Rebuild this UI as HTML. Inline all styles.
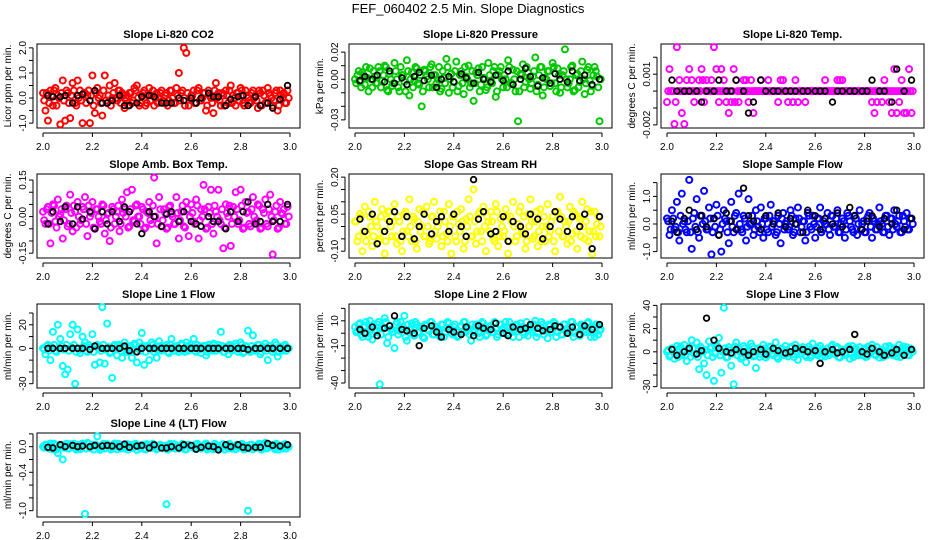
<!DOCTYPE html>
<html><head><meta charset="utf-8"><style>
html,body{margin:0;padding:0;background:#fff;}
svg{display:block;font-family:"Liberation Sans",Arial,sans-serif;}
</style></head><body>
<svg id="chart" width="936" height="540" viewBox="0 0 936 540">
<rect width="936" height="540" fill="#fff"/>
<text x="468" y="13" text-anchor="middle" font-size="13">FEF_060402  2.5 Min. Slope Diagnostics</text>
</svg>
<script>
const xsColor = [2.00,2.01,2.02,2.03,2.04,2.05,2.06,2.07,2.08,2.09,2.10,2.11,2.12,2.13,2.14,2.15,2.16,2.17,2.18,2.19,2.20,2.21,2.22,2.23,2.24,2.25,2.26,2.27,2.28,2.29,2.30,2.31,2.32,2.33,2.34,2.35,2.36,2.37,2.38,2.39,2.40,2.41,2.42,2.43,2.44,2.45,2.46,2.47,2.48,2.49,2.50,2.51,2.52,2.53,2.54,2.55,2.56,2.57,2.58,2.59,2.60,2.61,2.62,2.63,2.64,2.65,2.66,2.67,2.68,2.69,2.70,2.71,2.72,2.73,2.74,2.75,2.76,2.77,2.78,2.79,2.80,2.81,2.82,2.83,2.84,2.85,2.86,2.87,2.88,2.89,2.90,2.91,2.92,2.93,2.94,2.95,2.96,2.97,2.98,2.99];
const xsBlack = [2.02,2.04,2.07,2.09,2.12,2.14,2.16,2.19,2.21,2.24,2.26,2.28,2.31,2.33,2.35,2.38,2.40,2.43,2.45,2.48,2.50,2.52,2.55,2.57,2.60,2.62,2.64,2.67,2.69,2.71,2.74,2.76,2.79,2.81,2.83,2.86,2.88,2.91,2.93,2.96,2.99];
const xTicks = [2.0,2.2,2.4,2.6,2.8,3.0];
const xTickLabels = ["2.0","2.2","2.4","2.6","2.8","3.0"];

const co2Color = [0.2,-0.5,-0.9,0.3,-0.3,0.4,0.1,-1.05,0.7,-0.9,0.2,-0.8,0.6,-0.2,0.7,0.3,-1.0,0.2,0.1,-1.0,0.9,-0.6,0.4,0.1,-0.7,0.9,-0.2,0.5,0.0,0.6,-0.1,0.3,0.2,-0.4,0.1,0.2,-0.2,0.4,0.5,-0.3,0.1,0.3,-0.2,0.4,0.1,-0.3,0.2,0.0,0.3,-0.2,0.2,-0.1,0.3,-0.2,0.4,1.0,0.2,2.0,1.8,-0.3,0.1,0.3,-0.2,0.4,-0.1,0.2,-0.5,0.3,0.0,-0.6,0.6,0.2,-0.3,0.1,0.3,-0.2,0.5,0.1,-0.3,0.2,0.4,-0.2,0.3,0.0,-0.2,0.3,0.1,-0.4,0.2,0.3,-0.2,0.4,0.1,-0.3,0.2,-0.5,0.3,0.0,-0.2,0.3];
const co2Band = [-0.1,0.2,-0.2,0.1,0.3,-0.3,0,0.2,-0.1,0.3,-0.2,0.1,0.3,-0.3,0,-0.1,0.2,-0.2,0.3,0.1,-0.3,0.2,0,-0.2,0.3,-0.1,0.1,-0.3,0.2,0,0.3,-0.2,0.1,0,-0.3,0.2,-0.1,0.3,0,-0.2,0.2,-0.3,0.1,-0.1,0.3,0,-0.2,0.2,-0.1,0.1,-0.3,0.3,0,-0.2,0.1,-0.1,0.3,-0.3,0.2,0,0.1,-0.2,0.3,-0.1,0,0.2,-0.3,0.1,-0.2,0.3,0,-0.1,0.2,-0.3,0.1,0.3,-0.2,0,0.2,-0.1,0.3,-0.3,0.1,-0.2,0.2,0,-0.1,0.3,-0.3,0.1,-0.2,0.2,0,-0.1,0.3,-0.3,0.1,0.2,-0.2,0];
const co2Black = [0.1,0.05,0.05,0.1,-0.2,0.1,0.15,-0.1,0.3,-0.2,-0.2,-0.1,0.1,-0.3,-0.3,-0.2,0.05,0.1,0.05,-0.2,-0.2,-0.2,0.0,-0.1,0.0,-0.2,0.0,0.2,0.05,0.05,-0.3,-0.05,0.05,0.1,-0.3,0.05,-0.3,-0.2,-0.4,-0.05,0.5];
const presColor = [0,0.003,-0.002,0.005,-0.004,0.001,0.008,-0.006,0.002,-0.003,0.006,-0.001,0.010,-0.008,0.004,-0.005,0.012,0,-0.009,0.003,-0.002,0.014,-0.012,0.005,-0.001,0.008,-0.004,-0.020,0.007,0.002,-0.006,0.011,0.003,-0.003,0.009,-0.007,0.001,0.015,-0.010,0.004,-0.002,0.013,-0.005,0.006,-0.011,0.002,0.010,-0.003,-0.016,0.005,0.008,-0.004,0.001,-0.008,0.012,-0.001,0.006,-0.013,0.003,0.009,-0.006,0,0.014,-0.003,0.007,-0.009,-0.031,0.004,0.011,-0.002,0.005,-0.007,0.002,0.016,-0.004,0.009,-0.012,0.001,0.006,-0.005,0.012,-0.003,0.008,-0.010,0.003,0.022,-0.006,0,0.010,-0.008,0.004,-0.002,0.013,-0.011,0.007,-0.001,-0.005,0.009,0.002,-0.031];
const presBand = [-0.003,0.006,-0.006,0.003,0.009,-0.009,0,0.006,-0.003,0.009,-0.006,0.003,0.009,-0.009,0,-0.003,0.006,-0.006,0.009,0.003,-0.009,0.006,0,-0.006,0.009,-0.003,0.003,-0.009,0.006,0,0.009,-0.006,0.003,0,-0.009,0.006,-0.003,0.009,0,-0.006,0.006,-0.009,0.003,-0.003,0.009,0,-0.006,0.006,-0.003,0.003,-0.009,0.009,0,-0.006,0.003,-0.003,0.009,-0.009,0.006,0,0.003,-0.006,0.009,-0.003,0,0.006,-0.009,0.003,-0.006,0.009,0,-0.003,0.006,-0.009,0.003,0.009,-0.006,0,0.006,-0.003,0.009,-0.009,0.003,-0.006,0.006,0,-0.003,0.009,-0.009,0.003,-0.006,0.006,0,-0.003,0.009,-0.009,0.003,0.006,-0.006,0];
const presBlack = [-0.001,0.002,0,0.003,-0.002,0.006,-0.003,0.001,-0.004,0.002,0.005,-0.001,0.003,-0.006,0,0.002,-0.002,0.004,0.001,-0.003,0.005,0,-0.002,0.003,-0.001,0.006,-0.004,0,0.008,0.002,-0.005,0.001,-0.003,0.004,0,-0.002,0.006,-0.001,0.003,-0.004,0];
const tempColor = [-0.00065,0.0013,0,-0.00195,0.0026,0.00065,-0.0013,-0.00195,0.00065,0.0013,0.00065,-0.00065,0,0.00065,0.0013,-0.00065,0.00065,0,0.00065,0.0026,0.0013,-0.00065,0.0013,0.00065,-0.00065,-0.0013,-0.00065,0.0013,0.00065,-0.00065,0,0.00065,0.00065,-0.00065,0.00065,-0.0013,0,0,0.00065,0,0,0.00065,0,0,0,-0.00065,0.00065,0.00065,0,-0.00065,0,-0.00065,0.00065,-0.00065,0,0,-0.00065,0,0,0,0,0,0,0,0.00065,0,0,0,0,0.00065,0.00065,0.00065,0,0,0,0,0,0,0,0,0,0,0,-0.00065,-0.0013,-0.00065,0,-0.00065,0.00065,0,-0.00065,-0.0013,0.0013,-0.0013,-0.00065,0.00065,-0.0013,-0.0013,0.0013,-0.0013];
const tempBand = [0,0,0,-0.00065,0,0,0,0,0,0,0,0,0,0,0.00065,0,0,0,0,0,0,0,0,0,0,0,0,-0.00065,0,0,0,0,0,0,0,0,0,0,0,0,0,0,0,0,0,0,0,0,0,0,0,0,0,0,0,0,0,0,0,0,0,0,0,0,0,0,0,0,0,0,0,0,0,0,0,0,0,0,0,0,0,0,0,0,0,0,0,0,0,0,0,0,0,0,0,0,0,0,0,0];
const tempBlack = [0.00065,0,0,0,0,-0.00065,0,0,0.00065,0,0,0.00065,0,-0.0013,-0.00065,0.00065,0,0,0,0,0,0,0,0,0,0,0,-0.00065,0,0,0,0,0,0,0.00065,0,0,-0.00065,0.0013,0,0.00065];
const boxColor = [0.02,-0.03,0.04,-0.11,0.05,-0.02,0.07,0.01,-0.09,0.03,-0.04,0.09,-0.06,0.02,0.06,-0.03,0.04,0.08,-0.08,0.0,0.06,-0.05,0.03,-0.02,0.05,-0.07,0.01,-0.10,0.04,-0.03,0.02,-0.06,0.07,0.03,0.10,-0.04,0.11,-0.02,0.05,0.0,0.04,-0.05,0.02,0.06,-0.03,0.16,-0.11,0.08,-0.04,0.03,-0.05,0.04,0.01,-0.03,0.08,-0.09,0.02,-0.04,0.06,-0.08,0.05,-0.02,0.07,-0.09,0.03,0.13,-0.05,0.04,0.11,-0.07,0.02,0.11,-0.03,-0.13,0.05,0.0,-0.12,0.04,0.10,-0.03,0.11,-0.05,0.06,0.02,-0.04,0.08,-0.02,0.05,-0.05,0.03,0.07,-0.04,0.09,-0.155,0.02,-0.05,0.06,0.01,-0.03,0.04];
const boxBand = [-0.015,0.03,-0.03,0.015,0.045,-0.045,0,0.03,-0.015,0.045,-0.03,0.015,0.045,-0.045,0,-0.015,0.03,-0.03,0.045,0.015,-0.045,0.03,0,-0.03,0.045,-0.015,0.015,-0.045,0.03,0,0.045,-0.03,0.015,0,-0.045,0.03,-0.015,0.045,0,-0.03,0.03,-0.045,0.015,-0.015,0.045,0,-0.03,0.03,-0.015,0.015,-0.045,0.045,0,-0.03,0.015,-0.015,0.045,-0.045,0.03,0,0.015,-0.03,0.045,-0.015,0,0.03,-0.045,0.015,-0.03,0.045,0,-0.015,0.03,-0.045,0.015,0.045,-0.03,0,0.03,-0.015,0.045,-0.045,0.015,-0.03,0.03,0,-0.015,0.045,-0.045,0.015,-0.03,0.03,0,-0.015,0.045,-0.045,0.015,0.03,-0.03,0];
const boxBlack = [-0.03,0.02,-0.02,0.04,-0.03,0.04,-0.01,0.02,-0.05,0.02,-0.03,0.02,-0.02,0.04,0.02,-0.03,-0.07,0.02,0.0,-0.04,0.01,0.02,-0.02,0.02,-0.02,-0.03,-0.04,0.0,-0.02,-0.02,-0.05,0.02,-0.02,0.02,0.06,-0.03,-0.02,0.05,-0.02,-0.02,0.05];
const rhColor = [0.02,-0.06,0.05,-0.10,0.08,-0.03,0.04,-0.08,0.10,0.0,-0.05,0.07,-0.11,0.03,0.06,-0.04,0.09,-0.07,0.02,-0.10,0.05,-0.02,0.11,-0.06,0.03,-0.09,0.07,0.0,-0.04,0.08,-0.07,0.04,0.10,-0.05,0.02,-0.08,0.06,-0.03,0.09,-0.11,0.04,-0.06,0.01,0.07,-0.09,0.03,0.11,-0.04,0.15,-0.07,0.05,-0.02,0.08,-0.10,0.02,0.06,-0.05,0.09,-0.08,0.03,-0.04,0.07,-0.11,0.04,0.10,-0.06,0.01,0.08,-0.03,-0.09,0.05,0.11,-0.05,0.02,-0.08,0.07,0.0,-0.06,0.09,-0.02,0.04,-0.10,0.06,0.12,-0.04,0.02,-0.07,0.08,-0.03,0.05,-0.09,0.03,0.10,-0.05,0.07,-0.02,-0.11,0.06,0.01,-0.04];
const rhBand = [0.02,-0.04,0.04,-0.02,-0.06,0.06,0,-0.04,0.02,-0.06,0.04,-0.02,-0.06,0.06,0,0.02,-0.04,0.04,-0.06,-0.02,0.06,-0.04,0,0.04,-0.06,0.02,-0.02,0.06,-0.04,0,-0.06,0.04,-0.02,0,0.06,-0.04,0.02,-0.06,0,0.04,-0.04,0.06,-0.02,0.02,-0.06,0,0.04,-0.04,0.02,-0.02,0.06,-0.06,0,0.04,-0.02,0.02,-0.06,0.06,-0.04,0,-0.02,0.04,-0.06,0.02,0,-0.04,0.06,-0.02,0.04,-0.06,0,0.02,-0.04,0.06,-0.02,-0.06,0.04,0,-0.04,0.02,-0.06,0.06,-0.02,0.04,-0.04,0,0.02,-0.06,0.06,-0.02,0.04,-0.04,0,0.02,-0.06,0.06,-0.02,-0.04,0.04,0];
const rhBlack = [0.03,-0.02,0.05,-0.07,-0.02,0.02,0.06,-0.04,0.04,-0.05,0.0,0.05,-0.03,0.02,0.04,-0.02,0.05,0.0,-0.04,0.19,0.03,0.06,-0.03,-0.02,0.04,-0.06,0.02,0.0,-0.03,0.05,0.03,-0.05,0.0,0.06,0.03,-0.02,0.04,0.0,0.05,-0.09,0.04];
const sampleColor = [0.2,-0.4,0.5,-0.2,0.8,-0.6,1.1,0.1,-0.3,1.6,-0.9,0.4,0.9,-0.5,0.3,1.2,-0.2,0.6,-1.1,0.2,0.7,-0.4,-1.0,0.5,0.1,-0.7,0.8,-0.3,0.4,1.1,-0.2,0.3,-0.6,0.9,0.0,-0.4,0.5,-0.1,0.6,-0.5,0.2,-0.3,0.7,0.1,-0.4,0.3,-0.7,0.4,0.0,-0.2,0.5,-0.4,0.2,0.6,-0.3,0.1,-0.6,0.4,-0.1,0.3,-0.5,0.2,0.6,-0.2,0.0,0.4,-0.4,0.3,-0.1,0.5,-0.3,0.2,-0.5,0.4,0.1,-0.2,0.3,-0.4,0.5,0.0,-0.3,0.2,0.4,-0.5,0.1,-0.2,0.6,0.0,-0.3,0.3,-0.4,0.2,0.5,-0.1,0.3,-0.3,0.1,0.4,-0.2,0.2];
const sampleBand = [0.1,-0.2,0.2,-0.1,-0.3,0.3,0,-0.2,0.1,-0.3,0.2,-0.1,-0.3,0.3,0,0.1,-0.2,0.2,-0.3,-0.1,0.3,-0.2,0,0.2,-0.3,0.1,-0.1,0.3,-0.2,0,-0.3,0.2,-0.1,0,0.3,-0.2,0.1,-0.3,0,0.2,-0.2,0.3,-0.1,0.1,-0.3,0,0.2,-0.2,0.1,-0.1,0.3,-0.3,0,0.2,-0.1,0.1,-0.3,0.3,-0.2,0,-0.1,0.2,-0.3,0.1,0,-0.2,0.3,-0.1,0.2,-0.3,0,0.1,-0.2,0.3,-0.1,-0.3,0.2,0,-0.2,0.1,-0.3,0.3,-0.1,0.2,-0.2,0,0.1,-0.3,0.3,-0.1,0.2,-0.2,0,0.1,-0.3,0.3,-0.1,-0.2,0.2,0];
const sampleBlack = [0.1,-0.3,0.2,0.5,-0.2,0.3,-0.1,0.2,-0.4,0.4,0.1,-0.2,1.3,0.3,0.1,-0.2,0.3,0.0,0.4,-0.1,0.2,0.0,-0.3,0.5,0.3,-0.2,0.2,0.0,0.4,-0.1,0.6,0.3,-0.2,0.1,0.3,-0.1,0.2,0.0,0.5,-0.2,0.2];
const line1Color = [0,-5,3,-10,14,-2,20,8,-15,-22,-18,12,20,-30,16,-4,10,5,-3,0,12,-14,3,-12,35,-13,21,-4,-25,3,-6,2,-8,5,-3,0,-8,4,-12,5,13,-14,2,-10,5,-3,-8,6,-2,0,3,-4,8,-2,2,-3,4,-1,5,-2,3,8,-3,1,-4,2,-6,3,-1,4,-2,3,14,-3,1,-5,2,-1,4,-3,5,-4,2,15,-3,11,-2,3,-5,1,4,-10,2,-3,5,-7,1,-2,3,0];
const line1Band = [-1,2,-2,1,3,-3,0,2,-1,3,-2,1,3,-3,0,-1,2,-2,3,1,-3,2,0,-2,3,-1,1,-3,2,0,3,-2,1,0,-3,2,-1,3,0,-2,2,-3,1,-1,3,0,-2,2,-1,1,-3,3,0,-2,1,-1,3,-3,2,0,1,-2,3,-1,0,2,-3,1,-2,3,0,-1,2,-3,1,3,-2,0,2,-1,3,-3,1,-2,2,0,-1,3,-3,1,-2,2,0,-1,3,-3,1,2,-2,0];
const line1Black = [0,0,0,0,0,0,0,-1,2,0,0,0,0,2,-2,-3,0,0,0,0,0,0,0,0,0,0,0,0,0,0,0,0,0,0,-1,0,0,0,0,0,0];
const line2Color = [5,2,8,-3,6,0,10,-5,3,7,-41,4,12,-8,6,1,-12,9,2,5,14,-6,3,8,-2,7,1,4,-4,6,2,9,-1,5,3,7,-3,4,8,0,5,2,-2,6,9,1,4,-6,3,7,0,5,8,-2,3,6,1,4,-1,7,3,9,0,5,-3,6,2,8,1,4,-2,6,3,10,0,5,7,2,-4,6,3,8,1,5,-1,7,4,2,9,0,5,-2,6,3,8,1,4,-3,7,2];
const line2Band = [1,7,-1,5,9,-3,3,7,1,9,-1,5,9,-3,3,1,7,-1,9,5,-3,7,3,-1,9,1,5,-3,7,3,9,-1,5,3,-3,7,1,9,3,-1,7,-3,5,1,9,3,-1,7,1,5,-3,9,3,-1,5,1,9,-3,7,3,5,-1,9,1,3,7,-3,5,-1,9,3,1,7,-3,5,9,-1,3,7,1,9,-3,5,-1,7,3,1,9,-3,5,-1,7,3,1,9,-3,5,7,-1,3];
const line2Black = [3,0,5,-2,4,6,14,3,2,0,-10,4,6,1,-3,3,1,-1,5,-2,6,4,3,8,0,-2,5,3,4,7,4,2,3,6,5,0,5,-1,6,3,7];
const line3Color = [0,-4,3,-6,5,2,-3,6,-8,4,10,-2,8,-15,3,-10,-20,9,4,-25,6,12,-18,38,-5,4,-12,-28,8,3,-6,5,-9,2,7,-4,-14,3,-2,6,-5,1,4,-3,8,-6,2,-1,5,-4,3,-2,6,-7,1,4,-3,2,-5,7,0,-3,5,2,-4,3,-1,6,-2,4,-5,2,-1,3,-6,5,1,-3,4,-2,3,-4,1,6,-2,4,-5,2,0,-3,5,-1,3,-4,6,1,-2,4,-3,2];
const line3Band = [1.5,-3,3,-1.5,-4.5,4.5,0,-3,1.5,-4.5,3,-1.5,-4.5,4.5,0,1.5,-3,3,-4.5,-1.5,4.5,-3,0,3,-4.5,1.5,-1.5,4.5,-3,0,-4.5,3,-1.5,0,4.5,-3,1.5,-4.5,0,3,-3,4.5,-1.5,1.5,-4.5,0,3,-3,1.5,-1.5,4.5,-4.5,0,3,-1.5,1.5,-4.5,4.5,-3,0,-1.5,3,-4.5,1.5,0,-3,4.5,-1.5,3,-4.5,0,1.5,-3,4.5,-1.5,-4.5,3,0,-3,1.5,-4.5,4.5,-1.5,3,-3,0,1.5,-4.5,4.5,-1.5,3,-3,0,1.5,-4.5,4.5,-1.5,-3,3,0];
const line3Black = [2,-3,0,3,-2,1,29,10,3,0,-1,2,0,-3,0,2,-2,3,1,-1,0,3,2,0,1,-10,0,2,-1,0,2,15,0,-2,3,0,-3,-1,2,-3,2];
const line4Color = [0.0,0.03,-0.02,0.05,-0.04,0.02,-0.1,0.03,-0.2,0.01,-0.03,0.04,0.0,-0.02,0.03,-0.04,0.05,-1.05,0.06,-0.02,0.03,0.01,0.16,-0.05,0.02,-0.03,0.04,0.0,-0.02,0.05,-0.04,0.02,0.0,-0.03,0.04,0.01,-0.02,0.03,-0.05,0.02,0.0,-0.03,0.04,0.01,-0.02,0.03,-0.04,0.02,0.0,-0.03,-0.9,0.02,-0.02,0.04,0.0,-0.03,0.02,0.01,-0.04,0.03,0.0,-0.02,0.04,0.01,-0.03,0.02,0.05,-0.02,0.01,-0.04,0.03,0.0,-0.02,0.04,0.01,-0.03,0.02,0.0,-0.04,0.03,0.02,-0.02,0.0,-1.0,0.03,-0.04,0.01,0.02,-0.03,0.04,0.06,-0.02,0.0,0.03,-0.04,0.02,0.01,-0.03,0.04,0.02];
const line4Band = [-0.015,0.03,-0.03,0.015,0.045,-0.045,0,0.03,-0.015,0.045,-0.03,0.015,0.045,-0.045,0,-0.015,0.03,-0.03,0.045,0.015,-0.045,0.03,0,-0.03,0.045,-0.015,0.015,-0.045,0.03,0,0.045,-0.03,0.015,0,-0.045,0.03,-0.015,0.045,0,-0.03,0.03,-0.045,0.015,-0.015,0.045,0,-0.03,0.03,-0.015,0.015,-0.045,0.045,0,-0.03,0.015,-0.015,0.045,-0.045,0.03,0,0.015,-0.03,0.045,-0.015,0,0.03,-0.045,0.015,-0.03,0.045,0,-0.015,0.03,-0.045,0.015,0.045,-0.03,0,0.03,-0.015,0.045,-0.045,0.015,-0.03,0.03,0,-0.015,0.045,-0.045,0.015,-0.03,0.03,0,-0.015,0.045,-0.045,0.015,0.03,-0.03,0];
const line4Black = [-0.01,-0.02,0.03,0.0,0.02,0.0,0.01,0.0,0.02,0.01,0.02,0.01,0.0,0.04,-0.01,0.01,0.02,-0.02,0.03,-0.02,-0.02,0.0,-0.02,0.03,0.02,-0.04,-0.01,0.01,0.0,-0.05,0.03,0.0,0.03,-0.01,-0.02,-0.01,-0.01,0.05,0.02,0.01,0.03];

const panelTitles = ["Slope Li-820 CO2","Slope Li-820 Pressure","Slope Li-820 Temp.","Slope Amb. Box Temp.","Slope Gas Stream RH","Slope Sample Flow","Slope Line 1 Flow","Slope Line 2 Flow","Slope Line 3 Flow","Slope Line 4 (LT) Flow"];
const yTitles = ["Licor ppm per min.","kPa per min.","degrees C per min.","degrees C per min.","percent per min.","ml/min per min.","ml/min per min.","ml/min per min.","ml/min per min.","ml/min per min."];
const yTicks = [[-1,-0.5,0,0.5,1,1.5,2],[-0.03,-0.02,-0.01,0,0.01,0.02],[-0.002,-0.001,0,0.001,0.002],[-0.15,-0.1,-0.05,0,0.05,0.1,0.15],[-0.1,-0.05,0,0.05,0.1,0.15,0.2],[-1,-0.5,0,0.5,1,1.5],[-30,-20,-10,0,10,20,30],[-40,-30,-20,-10,0,10,20],[-30,-20,-10,0,10,20,30,40],[-1,-0.8,-0.6,-0.4,-0.2,0,0.2]];
const yTickLabels = [["-1.0","","0.0","","1.0","","2.0"],["-0.03","","","0.00","","0.02"],["-0.002","","","0.001",""],["-0.15","","","0.00","","","0.15"],["-0.10","","","0.05","","","0.20"],["-1.0","","0.0","","1.0",""],["-30","","","0","","20",""],["-40","","","-10","","10",""],["-30","","","0","","20","","40"],["-1.0","","","-0.4","","0.0",""]];
const yLims = [[-1.07,2.03],[-0.0337,0.0237],[-0.002,0.0026],[-0.157,0.162],[-0.115,0.2],[-1.12,1.7],[-31,35],[-41.5,21],[-28.5,38.5],[-1.05,0.165]];
const colors = ["#ff0000","#00c800","#ff00ff","#ff00ff","#ffff00","#0000ff","#00ffff","#00ffff","#00ffff","#00ffff"];
const colorSeries = [co2Color,presColor,tempColor,boxColor,rhColor,sampleColor,line1Color,line2Color,line3Color,line4Color];
const bandSeries = [co2Band,presBand,tempBand,boxBand,rhBand,sampleBand,line1Band,line2Band,line3Band,line4Band];
const blackSeries = [co2Black,presBlack,tempBlack,boxBlack,rhBlack,sampleBlack,line1Black,line2Black,line3Black,line4Black];

const NS = "http://www.w3.org/2000/svg";
const svg = document.getElementById("chart");
function mk(tag, attrs, parent){ const e=document.createElementNS(NS,tag); for(const k in attrs) e.setAttribute(k,attrs[k]); (parent||svg).appendChild(e); return e; }

const colLeft = [37,349,661], boxW = 263;
const rowTop = [44,174,304,433], boxH = 84;

for(let p=0;p<10;p++){
  const c=p%3, r=Math.floor(p/3);
  const L=colLeft[c], T=rowTop[r], B=T+boxH, R=L+boxW;
  const g=mk("g",{});
  
  
  const xScale = v => (L+6) + (v-2)*247;
  const lim=yLims[p], pad=(lim[1]-lim[0])*0.04;
  const y0=lim[0]-pad, y1=lim[1]+pad;
  const yScale = v => B - (v-y0)/(y1-y0)*boxH;

  const t=mk("text",{x:(L+R)/2,y:T-6,"text-anchor":"middle","font-size":"11","font-weight":"bold"},g);
  t.textContent=panelTitles[p];
  
  

  const box=mk("rect",{x:L,y:T,width:boxW,height:boxH,fill:"none",stroke:"#000","stroke-width":"1"},g);
  
  

  const ax=mk("line",{x1:xScale(2),x2:xScale(3),y1:B+5,y2:B+5,stroke:"#000"},g);
  
  
  xTicks.forEach((v,i)=>{
    const tk=mk("line",{x1:xScale(v),x2:xScale(v),y1:B+5,y2:B+9,stroke:"#000"},g);
    
    
    const tl=mk("text",{x:xScale(v),y:B+22,"text-anchor":"middle","font-size":"10"},g);
    tl.textContent=xTickLabels[i];
    
    
  });
  const ticks=yTicks[p];
  const ay=mk("line",{x1:L-4,x2:L-4,y1:yScale(ticks[0]),y2:yScale(ticks[ticks.length-1]),stroke:"#000"},g);
  
  
  ticks.forEach((v,i)=>{
    const yy=yScale(v);
    const tk=mk("line",{x1:L-8,x2:L-4,y1:yy,y2:yy,stroke:"#000"},g);
    
    
    if(yTickLabels[p][i]){
      const tl=mk("text",{x:0,y:0,"text-anchor":"middle","font-size":"10",transform:`translate(${L-11},${yy}) rotate(-90)`},g);
      tl.textContent=yTickLabels[p][i];
      
      
    }
  });
  const yt=mk("text",{x:0,y:0,"text-anchor":"middle","font-size":"10",transform:`translate(${L-26},${(T+B)/2}) rotate(-90)`},g);
  yt.textContent=yTitles[p];
  
  

  const bs2=bandSeries[p];
  for(let i=0;i<bs2.length && i<xsColor.length;i++){
    const pt=mk("circle",{cx:xScale(xsColor[i])+1.2,cy:yScale(bs2[i]),r:"3",fill:"none",stroke:colors[p],"stroke-width":"2"},g);
    
    
  }
  const cs=colorSeries[p];
  for(let i=0;i<cs.length && i<xsColor.length;i++){
    const pt=mk("circle",{cx:xScale(xsColor[i]),cy:yScale(cs[i]),r:"3",fill:"none",stroke:colors[p],"stroke-width":"2"},g);
    
    
  }
  const bs=blackSeries[p];
  for(let i=0;i<bs.length && i<xsBlack.length;i++){
    const pt=mk("circle",{cx:xScale(xsBlack[i]),cy:yScale(bs[i]),r:"2.8",fill:"none",stroke:"#000","stroke-width":"1.8"},g);
    
    
  }
}
</script>
</body></html>
